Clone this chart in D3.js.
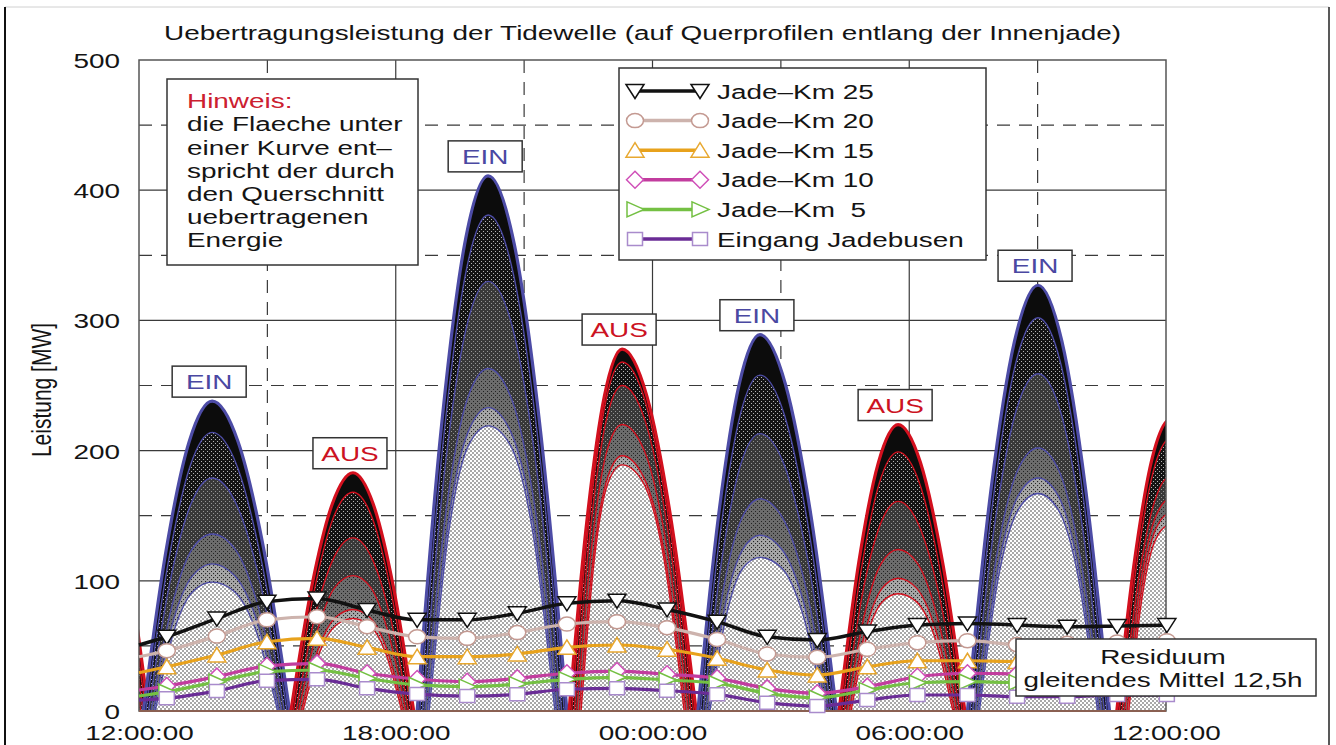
<!DOCTYPE html>
<html>
<head>
<meta charset="utf-8">
<script src="https://cdn.jsdelivr.net/npm/d3@7"></script>
<style>
  html, body { margin: 0; padding: 0; background: #ffffff; }
  svg { display: block; font-family: "Liberation Sans", Arial, Helvetica, sans-serif; }
  text { white-space: pre; }
</style>
</head>
<body>
<svg id="chart" width="1336" height="745"></svg>
<script>
// ---------------- data ----------------
const xTickHours  = [0, 6, 12, 18, 24];
const xTickLabels = ["12:00:00", "18:00:00", "00:00:00", "06:00:00", "12:00:00"];
const yTicks      = [0, 100, 200, 300, 400, 500];

const seriesNames = ["Jade\u2013Km 25", "Jade\u2013Km 20", "Jade\u2013Km 15",
                     "Jade\u2013Km 10", "Jade\u2013Km  5", "Eingang Jadebusen"];

// tide phases, hours after 12:00: zero crossings and time of maximum power
const phaseStart = [-3.00, 0.10, 3.55, 6.50, 10.05, 13.06, 16.36, 19.36, 22.85];
const phasePeak  = [-1.39, 1.71, 5.00, 8.16, 11.29, 14.51, 17.74, 21.01, 24.10];
const phaseEnd   = [ 0.22, 3.52, 6.42, 10.00, 13.02, 16.30, 19.30, 22.68, 25.85];
const phaseType  = ["AUS", "EIN", "AUS", "EIN", "AUS", "EIN", "AUS", "EIN", "AUS"];
const phaseLabelled = [false, true, true, true, true, true, true, true, false];

// delay of the zero crossings per cross section [h]
const onsetDelay = [0, 0.06, 0.12, 0.18, 0.24, 0.28];

// transmitted power [MW]: 1/3 and 2/3 of the rise, maximum, 1/3 and 2/3 of the fall
const powerKm25 = [
  [125, 209, 240, 209, 125], [124, 207, 238, 207, 124], [ 95, 159, 183, 159,  95],
  [214, 358, 411, 358, 214], [145, 242, 278, 242, 145], [150, 251, 289, 251, 150],
  [114, 191, 220, 191, 114], [170, 284, 327, 284, 170], [116, 195, 224, 195, 116]];
const powerKm20 = [
  [117, 194, 220, 194, 117], [113, 188, 214, 188, 113], [ 89, 148, 168, 148,  89],
  [202, 335, 381, 335, 202], [142, 236, 268, 236, 142], [137, 227, 258, 227, 137],
  [105, 175, 199, 175, 105], [160, 266, 302, 266, 160], [111, 184, 209, 184, 111]];
const powerKm15 = [
  [105, 169, 190, 169, 105], [ 98, 159, 179, 159,  98], [ 73, 118, 133, 118,  73],
  [182, 294, 330, 294, 182], [138, 223, 250, 223, 138], [117, 190, 213, 190, 117],
  [ 89, 143, 161, 143,  89], [142, 231, 259, 231, 142], [ 99, 160, 180, 160,  99]];
const powerKm10 = [
  [ 93, 146, 160, 146,  93], [ 79, 124, 136, 124,  79], [ 60,  95, 104,  95,  60],
  [153, 239, 263, 239, 153], [128, 200, 220, 200, 128], [ 95, 148, 163, 148,  95],
  [ 72, 113, 124, 113,  72], [117, 184, 202, 184, 117], [ 95, 148, 163, 148,  95]];
const powerKm5 = [
  [ 85, 129, 140, 129,  85], [ 69, 104, 113, 104,  69], [ 48,  72,  78,  72,  48],
  [142, 214, 233, 214, 142], [120, 180, 196, 180, 120], [ 82, 124, 135, 124,  82],
  [ 62,  94, 102,  94,  62], [109, 165, 179, 165, 109], [ 93, 140, 152, 140,  93]];
const powerEingang = [
  [ 82, 121, 130, 121,  82], [ 62,  92,  99,  92,  62], [ 45,  66,  71,  66,  45],
  [138, 204, 219, 204, 138], [119, 176, 189, 176, 119], [ 74, 110, 118, 110,  74],
  [ 57,  84,  90,  84,  57], [105, 155, 167, 155, 105], [ 90, 133, 143, 133,  90]];

// residual power, moving average over 12.5 h
const residualHours = [0, 0.65, 1.82, 2.99, 4.16, 5.33, 6.50, 7.67, 8.84, 10.00, 11.17,
                       12.34, 13.51, 14.68, 15.85, 17.02, 18.19, 19.36, 20.52, 21.69, 22.86, 24.02];
const residualKm25 = [50.7, 57, 71, 84, 86.5, 77.6, 70, 70, 75, 82.7, 84.7,
                      78, 68.6, 57, 54.5, 61, 66, 67.3, 66, 64.8, 65.3, 66];
const residualKm20 = [41.7, 46.3, 57.6, 70, 72.4, 64.8, 57, 55.8, 60.2, 66.8, 68.6,
                      64, 55, 43.8, 41.2, 47.4, 52.5, 54, 51, 52, 53, 54];
const residualKm15 = [29.4, 34, 43, 53.2, 55.8, 48.9, 41.7, 41.7, 43.8, 48.9, 50.7,
                      47.4, 40.5, 31.5, 27.6, 34, 38.6, 38.6, 38, 38, 38, 38];
const residualKm10 = [16.1, 19.2, 26.4, 34.6, 36.6, 29, 24.6, 22.5, 25.1, 29, 30.7,
                      28.2, 25.1, 17.4, 13.6, 18.7, 26.3, 29, 28.5, 28, 28, 28];
const residualKm5  = [11.5, 14.8, 22.5, 30.2, 31.5, 25.1, 20, 18.7, 20.7, 24.3, 25.9,
                      23.8, 21.3, 13.6, 10.2, 16.1, 21.7, 22.5, 22, 22, 22, 22];
const residualEingang = [8.4, 9.7, 15.4, 23.3, 24.3, 17.4, 13, 11.5, 12.8, 16.7, 17.4,
                         15.6, 12.8, 6.4, 3.8, 8.4, 12.3, 12.3, 11, 11, 12.3, 12.3];

const hinweisLines = ["Hinweis:", "die Flaeche unter", "einer Kurve ent\u2013", "spricht der durch",
                      "den Querschnitt", "uebertragenen", "Energie"];

// ---------------- layout & style ----------------
const SX = 1.33;                       // horizontal text stretch
const margin = { left: 139, right: 1166, top: 60, bottom: 711 };
const BLUE = "#4d4ca6", RED = "#d3101e";
const lineColors   = ["#111111", "#cdb3ad", "#e8a21c", "#c23c9e", "#74c043", "#6a2c96"];
const markerColors = ["#111111", "#c49a92", "#e8a830", "#d050b8", "#74c043", "#a98bcc"];
const markerShapes = ["triDown", "circle", "triUp", "diamond", "triRight", "square"];

const powerCurves = [powerKm25, powerKm20, powerKm15, powerKm10, powerKm5, powerEingang];
const residuals   = [residualKm25, residualKm20, residualKm15, residualKm10, residualKm5, residualEingang];

const svg = d3.select("#chart");
const x = d3.scaleLinear().domain([0, 24]).range([margin.left, margin.right]);
const y = d3.scaleLinear().domain([0, 500]).range([margin.bottom, margin.top]);

function label(parent, px, py, str, opts = {}) {
  return parent.append("text")
    .attr("transform", `translate(${px},${py}) scale(${SX},1)`)
    .attr("text-anchor", opts.anchor || "start")
    .attr("font-size", opts.size || 21)
    .attr("fill", opts.fill || "#141414")
    .attr("xml:space", "preserve")
    .text(str);
}

// ---------------- patterns ----------------
const defs = svg.append("defs");
function dotPattern(id, bg, dot, r, pts) {
  const p = defs.append("pattern").attr("id", id).attr("patternUnits", "userSpaceOnUse")
    .attr("width", 4).attr("height", 4);
  p.append("rect").attr("width", 4).attr("height", 4).attr("fill", bg);
  pts.forEach(([px, py]) => p.append("rect").attr("x", px).attr("y", py)
    .attr("width", r).attr("height", r).attr("fill", dot));
}
dotPattern("band1", "#141414", "#b5b5b5", 1, [[1, 1], [3, 3]]);
dotPattern("band2", "#383838", "#959595", 1, [[1, 1], [3, 3]]);
dotPattern("band3", "#6c6c6c", "#222222", 1, [[1, 1], [3, 3]]);
dotPattern("band4", "#a6a6a6", "#222222", 1.1, [[1, 1], [3, 3]]);
dotPattern("band5", "#ffffff", "#111111", 1.2, [[0.4, 0.4], [2.4, 2.4]]);
const bandFills = ["#0c0c0c", "url(#band1)", "url(#band2)", "url(#band3)", "url(#band4)", "url(#band5)"];

defs.append("clipPath").attr("id", "plotClip").append("rect")
  .attr("x", margin.left).attr("y", margin.top)
  .attr("width", margin.right - margin.left).attr("height", margin.bottom - margin.top);

// ---------------- outer frame & title ----------------
svg.append("line").attr("x1", 5).attr("x2", 1329).attr("y1", 7).attr("y2", 7)
  .attr("stroke", "#d0d0d0").attr("stroke-width", 1);
svg.append("line").attr("x1", 5).attr("x2", 5).attr("y1", 7).attr("y2", 745)
  .attr("stroke", "#111").attr("stroke-width", 2);
svg.append("line").attr("x1", 1329).attr("x2", 1329).attr("y1", 7).attr("y2", 745)
  .attr("stroke", "#222").attr("stroke-width", 1.5);

label(svg, 164, 40, "Uebertragungsleistung der Tidewelle (auf Querprofilen entlang der Innenjade)");

// ---------------- grid ----------------
const grid = svg.append("g").attr("stroke", "#3a3a3a").attr("stroke-width", 1.2);
d3.range(50, 500, 50).forEach(v => {
  grid.append("line").attr("x1", margin.left).attr("x2", margin.right)
    .attr("y1", y(v)).attr("y2", y(v))
    .attr("stroke-dasharray", v % 100 === 0 ? null : "13,9");
});
d3.range(3, 24, 3).forEach(h => {
  grid.append("line").attr("y1", margin.top).attr("y2", margin.bottom)
    .attr("x1", x(h)).attr("x2", x(h))
    .attr("stroke-dasharray", h % 6 === 0 ? null : "13,9");
});

// ---------------- power curves (one hump per tide phase) ----------------
const area = d3.area().x(d => x(d[0])).y0(y(0)).y1(d => y(d[1])).curve(d3.curveMonotoneX);
const curve = d3.line().x(d => x(d[0])).y(d => y(d[1])).curve(d3.curveMonotoneX);
const humps = svg.append("g").attr("clip-path", "url(#plotClip)");

const peaks = [];
phaseStart.forEach((ts, h) => {
  const tp = phasePeak[h], te = phaseEnd[h];
  const pts = powerCurves.map((series, s) => {
    const t0 = ts + onsetDelay[s], t1 = te - onsetDelay[s];
    const v = series[h];
    return [
      [t0, 0],
      [t0 + (tp - t0) / 3, v[0]],
      [t0 + 2 * (tp - t0) / 3, v[1]],
      [tp, v[2]],
      [tp + (t1 - tp) / 3, v[3]],
      [tp + 2 * (t1 - tp) / 3, v[4]],
      [t1, 0]
    ];
  });
  pts.forEach((p, s) => humps.append("path").attr("d", area(p)).attr("fill", bandFills[s]));
  const col = phaseType[h] === "EIN" ? BLUE : RED;
  for (let s = pts.length - 1; s >= 0; s--) {
    humps.append("path").attr("d", curve(pts[s])).attr("fill", "none")
      .attr("stroke", col).attr("stroke-width", s === 0 ? 3.2 : 1.4);
  }
  peaks.push(pts[0][3]);
});

// ---------------- plot frame ----------------
svg.append("rect").attr("x", margin.left).attr("y", margin.top)
  .attr("width", margin.right - margin.left).attr("height", margin.bottom - margin.top)
  .attr("fill", "none").attr("stroke", "#555").attr("stroke-width", 1.5);
svg.append("line").attr("x1", margin.left).attr("x2", margin.right)
  .attr("y1", y(0)).attr("y2", y(0)).attr("stroke", "#8a6052").attr("stroke-width", 2);

// ---------------- axes ----------------
const yAxis = svg.append("g").attr("transform", `translate(${margin.left},0)`)
  .call(d3.axisLeft(y).tickValues(yTicks).tickSize(0).tickFormat(d3.format("d")));
yAxis.select(".domain").remove();
yAxis.selectAll("text").attr("x", null).attr("dy", null)
  .attr("transform", `translate(-19,7.5) scale(${SX},1)`)
  .attr("font-size", 21).attr("font-family", null).attr("fill", "#141414").attr("text-anchor", "end");

const xAxis = svg.append("g").attr("transform", `translate(0,${margin.bottom})`)
  .call(d3.axisBottom(x).tickValues(xTickHours).tickSize(0).tickFormat((d, i) => xTickLabels[i]));
xAxis.select(".domain").remove();
xAxis.selectAll("text").attr("y", null).attr("dy", null)
  .attr("transform", `translate(0,29) scale(${SX},1)`)
  .attr("font-size", 21).attr("font-family", null).attr("fill", "#141414").attr("text-anchor", "middle");

svg.append("text")
  .attr("transform", `translate(51,390) scale(${SX},1) rotate(-90)`)
  .attr("text-anchor", "middle").attr("font-size", 21).attr("fill", "#141414")
  .text("Leistung [MW]");

// ---------------- residual lines with markers ----------------
function marker(g, shape, px, py, stroke) {
  let el;
  switch (shape) {
    case "triDown":  el = g.append("path").attr("d", "M-9,-6.5L9,-6.5L0,7.5Z"); break;
    case "triUp":    el = g.append("path").attr("d", "M-9,7L9,7L0,-7.5Z"); break;
    case "diamond":  el = g.append("path").attr("d", "M-8.5,0L0,-8.5L8.5,0L0,8.5Z"); break;
    case "triRight": el = g.append("path").attr("d", "M-8,-7.5L-8,7.5L9,0Z"); break;
    case "square":   el = g.append("path").attr("d", "M-7.5,-6.5H7.5V6.5H-7.5Z"); break;
    default:         el = g.append("ellipse").attr("rx", 8.5).attr("ry", 7);
  }
  el.attr("transform", `translate(${px},${py})`).attr("fill", "#fff")
    .attr("stroke", stroke).attr("stroke-width", 1.5);
}

const resLine = d3.line().x(d => x(d[0])).y(d => y(d[1])).curve(d3.curveMonotoneX);
residuals.forEach((vals, s) => {
  const g = svg.append("g");
  const pts = residualHours.map((t, i) => [t, vals[i]]);
  g.append("path").attr("d", resLine(pts)).attr("fill", "none")
    .attr("stroke", lineColors[s]).attr("stroke-width", s === 0 ? 3.5 : 3.2);
  pts.slice(1).forEach(p => marker(g, markerShapes[s], x(p[0]), y(p[1]), markerColors[s]));
});

// ---------------- EIN / AUS labels ----------------
peaks.forEach((p, h) => {
  if (!phaseLabelled[h]) return;
  const cx = x(p[0]) - 3, bottom = y(p[1]) - 4;
  svg.append("rect").attr("x", cx - 37).attr("y", bottom - 31).attr("width", 74).attr("height", 31)
    .attr("fill", "#fff").attr("stroke", "#333").attr("stroke-width", 1.5);
  label(svg, cx, bottom - 8, phaseType[h], {
    anchor: "middle", fill: phaseType[h] === "EIN" ? "#4a48a2" : "#cc1222" });
});

// ---------------- note box ----------------
svg.append("rect").attr("x", 167).attr("y", 79).attr("width", 251).attr("height", 186)
  .attr("fill", "#fff").attr("stroke", "#333").attr("stroke-width", 1.5);
hinweisLines.forEach((t, i) =>
  label(svg, 187, 108.3 + 23.1 * i, t, { fill: i === 0 ? "#cc2030" : "#141414" }));

// ---------------- legend ----------------
const legend = svg.append("g");
legend.append("rect").attr("x", 619).attr("y", 68).attr("width", 367).attr("height", 192)
  .attr("fill", "#fff").attr("stroke", "#333").attr("stroke-width", 1.5);
seriesNames.forEach((name, s) => {
  const ry = 91 + 29.6 * s;
  legend.append("line").attr("x1", 635).attr("x2", 700).attr("y1", ry).attr("y2", ry)
    .attr("stroke", lineColors[s]).attr("stroke-width", 3.5);
  marker(legend, markerShapes[s], 635, ry, markerColors[s]);
  marker(legend, markerShapes[s], 700, ry, markerColors[s]);
  label(legend, 717, ry + 7.5, name);
});

// ---------------- residual note ----------------
svg.append("rect").attr("x", 1016).attr("y", 639).attr("width", 300).attr("height", 57)
  .attr("fill", "#fff").attr("stroke", "#333").attr("stroke-width", 1.5);
label(svg, 1163, 663.5, "Residuum", { anchor: "middle" });
label(svg, 1163, 687, "gleitendes Mittel 12,5h", { anchor: "middle" });
</script>
</body>
</html>
